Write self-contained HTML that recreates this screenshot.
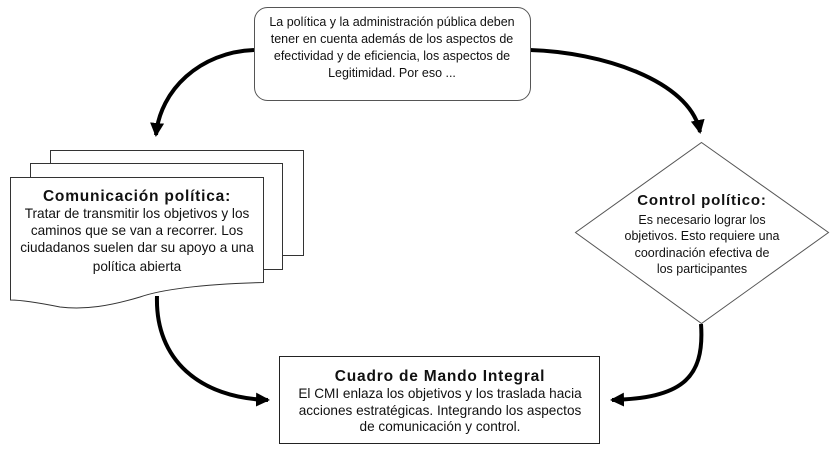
<!DOCTYPE html>
<html><head><meta charset="utf-8"><style>
html,body{margin:0;padding:0;background:#fff;}
svg{display:block}
text{font-family:"Liberation Sans",sans-serif;font-size:12.5px;fill:#111;text-anchor:middle}
.b{font-weight:bold;font-size:15.5px;letter-spacing:0.8px}
.m{font-size:13.6px}
</style></head><body>
<svg width="840" height="454" viewBox="0 0 840 454" xmlns="http://www.w3.org/2000/svg">
<defs>
<marker id="ah" markerWidth="16" markerHeight="14" refX="12" refY="7" orient="auto" markerUnits="userSpaceOnUse"><path d="M0,0 L14,7 L0,14 Z" fill="#000"/></marker></defs>
<g fill="none" stroke="#000" stroke-width="4">
<path d="M254,50 C200,52 160,90 156,135" marker-end="url(#ah)"/>
<path d="M530,50 C600,52 690,80 700,132" marker-end="url(#ah)"/>
<path d="M157,296 C155,360 200,398 268,400" marker-end="url(#ah)"/>
<path d="M701,324 C705,380 680,398 612,400" marker-end="url(#ah)"/>
</g>
<rect x="254.5" y="7.5" width="276" height="93" rx="13" fill="#fff" stroke="#555" stroke-width="1"/>
<text x="392" y="26">La política y la administración pública deben</text>
<text x="392" y="43">tener en cuenta además de los aspectos de</text>
<text x="392" y="60">efectividad y de eficiencia, los aspectos de</text>
<text x="392" y="77">Legitimidad. Por eso ...</text>
<g fill="#fff" stroke="#333" stroke-width="1">
<path d="M50.5,150.5 H303.5 V255.5 H282.5 V163.5 H50.5 Z"/>
<path d="M30.5,163.5 H282.5 V269.5 H263.5 V177.5 H30.5 Z"/>
<path d="M10.5,177.5 H263.5 V282.5 C200,284 160,290 140,297 C110,306 85,310 60,307 C40,303 20,300 10.5,300 Z"/>
</g>
<text class="b" x="137" y="201">Comunicación política:</text>
<text class="m" x="137" y="218">Tratar de transmitir los objetivos y los</text>
<text class="m" x="137" y="235">caminos que se van a recorrer.  Los</text>
<text class="m" x="137" y="252">ciudadanos suelen dar su apoyo a una</text>
<text class="m" x="137" y="271">política abierta</text>
<path d="M701.5,142.5 L828.5,232.5 L701.5,323.5 L575.5,232.5 Z" fill="#fff" stroke="#555" stroke-width="1"/>
<text class="b" x="702" y="205" style="font-size:15px">Control político:</text>
<text x="702" y="224">Es necesario lograr los</text>
<text x="702" y="240">objetivos.  Esto requiere una</text>
<text x="702" y="257">coordinación efectiva de</text>
<text x="702" y="273">los participantes</text>
<rect x="279.5" y="356.5" width="320" height="87" fill="#fff" stroke="#222" stroke-width="1"/>
<text class="b" x="440" y="381">Cuadro de Mando Integral</text>
<text class="m" x="440" y="398">El CMI enlaza los objetivos y los traslada hacia</text>
<text class="m" x="440" y="415">acciones estratégicas. Integrando los aspectos</text>
<text class="m" x="440" y="431">de comunicación y control.</text>
</svg>
</body></html>
